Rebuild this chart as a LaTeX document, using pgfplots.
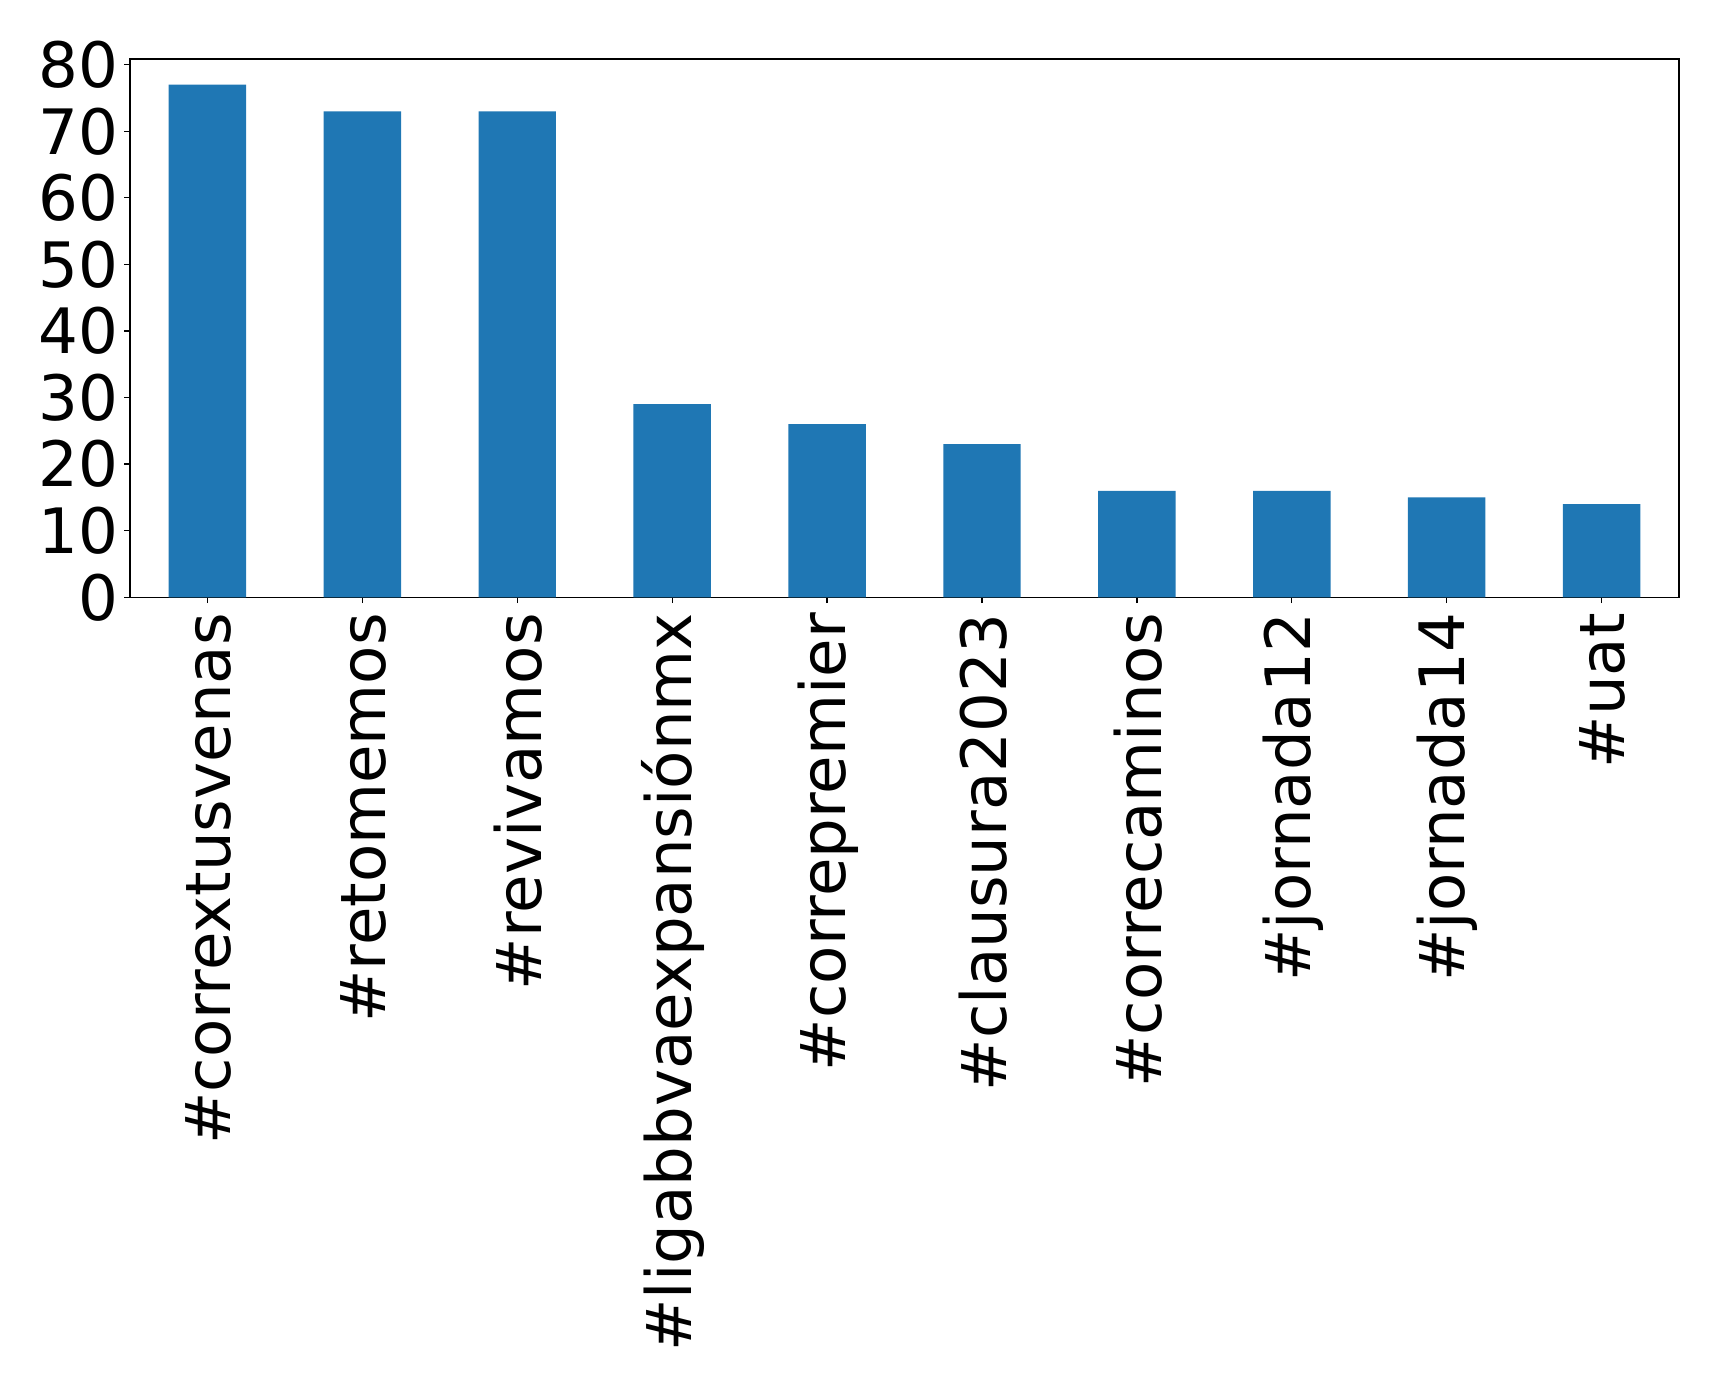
\documentclass[border=0pt]{standalone}
\usepackage{fontspec}
\setmainfont{DejaVu Sans}
\usepackage{pgfplots}
\pgfplotsset{compat=1.18}
\definecolor{barblue}{HTML}{1F77B4}
\begin{document}
\begin{tikzpicture}
\path[use as bounding box] (-130pt,-785.7pt) rectangle (1589pt,597.3pt);
\begin{axis}[
  at={(0,0)}, anchor=south west,
  scale only axis,
  width=1549pt, height=538.3pt,
  xmin=-0.5, xmax=9.5, ymin=0, ymax=80.85,
  axis line style={line width=1.3pt},
  tick style={line width=1.3pt, black},
  major tick length=5.7pt,
  tick align=outside,
  tick pos=left,
  xtick={0,1,2,3,4,5,6,7,8,9},
  xticklabels={\#corrextusvenas,\#retomemos,\#revivamos,\#ligabbvaexpansiónmx,\#correpremier,\#clausura2023,\#correcaminos,\#jornada12,\#jornada14,\#uat},
  ytick={0,10,20,30,40,50,60,70,80},
  /pgf/number format/assume math mode=true,
  ticklabel style={font=\fontsize{62.6}{75}\selectfont, inner sep=0pt},
  xticklabel style={rotate=90, anchor=east, xshift=-10pt, yshift=-1pt},
  yticklabel style={anchor=east, xshift=-6pt},
  ]
\addplot[ybar, bar width=0.5, fill=barblue, draw=none] coordinates {
(0,77) (1,73) (2,73) (3,29) (4,26) (5,23) (6,16) (7,16) (8,15) (9,14)};
\end{axis}
\end{tikzpicture}
\end{document}
